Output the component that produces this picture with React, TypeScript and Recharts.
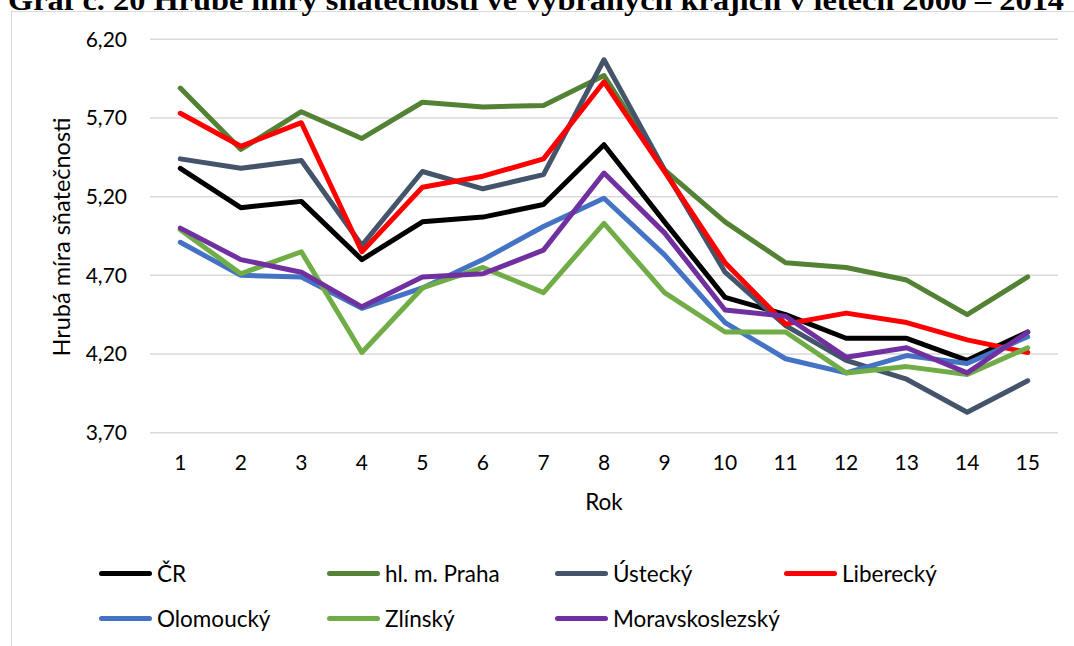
import { CartesianGrid, Legend, Line, LineChart, XAxis, YAxis } from "recharts";

const years = ["1", "2", "3", "4", "5", "6", "7", "8", "9", "10", "11", "12", "13", "14", "15"];

const cr = [5.38, 5.13, 5.17, 4.8, 5.04, 5.07, 5.15, 5.53, 5.04, 4.56, 4.45, 4.3, 4.3, 4.16, 4.34];
const praha = [5.89, 5.5, 5.74, 5.57, 5.8, 5.77, 5.78, 5.97, 5.37, 5.04, 4.78, 4.75, 4.67, 4.45, 4.69];
const ustecky = [5.44, 5.38, 5.43, 4.89, 5.36, 5.25, 5.34, 6.07, 5.37, 4.72, 4.38, 4.16, 4.04, 3.83, 4.03];
const liberecky = [5.73, 5.52, 5.67, 4.85, 5.26, 5.33, 5.44, 5.93, 5.36, 4.78, 4.39, 4.46, 4.4, 4.29, 4.21];
const olomoucky = [4.91, 4.7, 4.69, 4.49, 4.62, 4.8, 5.01, 5.19, 4.83, 4.4, 4.17, 4.08, 4.19, 4.14, 4.31];
const zlinsky = [4.99, 4.71, 4.85, 4.21, 4.62, 4.75, 4.59, 5.03, 4.59, 4.34, 4.34, 4.08, 4.12, 4.07, 4.24];
const moravskoslezsky = [5.0, 4.8, 4.72, 4.5, 4.69, 4.71, 4.86, 5.35, 4.97, 4.48, 4.44, 4.18, 4.24, 4.08, 4.34];

const yTicks = [3.7, 4.2, 4.7, 5.2, 5.7, 6.2];

const series = [
  { key: "cr", name: "ČR", color: "#000000", values: cr },
  { key: "praha", name: "hl. m. Praha", color: "#548235", values: praha },
  { key: "ustecky", name: "Ústecký", color: "#44546A", values: ustecky },
  { key: "liberecky", name: "Liberecký", color: "#FF0000", values: liberecky },
  { key: "olomoucky", name: "Olomoucký", color: "#4472C4", values: olomoucky },
  { key: "zlinsky", name: "Zlínský", color: "#70AD47", values: zlinsky },
  { key: "moravskoslezsky", name: "Moravskoslezský", color: "#7030A0", values: moravskoslezsky },
];

const data = years.map((year, i) => {
  const row: Record<string, string | number> = { year };
  series.forEach((s) => {
    row[s.key] = s.values[i];
  });
  return row;
});

const font = "Lato, 'Open Sans', sans-serif";

// legend grid: 4 columns, 2 rows
const legendCols = [99, 327, 555, 784];
const legendRows = [37, 82];

function LegendContent() {
  return (
    <div style={{ position: "relative", width: 1074, height: 110 }}>
      {series.map((s, i) => {
        const left = legendCols[i % 4];
        const top = legendRows[Math.floor(i / 4)];
        return (
          <div
            key={s.key}
            style={{
              position: "absolute",
              left,
              top: top - 13,
              height: 26,
              display: "flex",
              alignItems: "center",
              fontFamily: font,
              fontSize: 22.5,
              color: "#000",
              whiteSpace: "nowrap",
            }}
          >
            <span
              style={{
                display: "inline-block",
                width: 53,
                height: 5,
                borderRadius: 3,
                background: s.color,
                marginRight: 5,
              }}
            />
            {s.name}
          </div>
        );
      })}
    </div>
  );
}

export default function App() {
  return (
    <div
      style={{
        position: "fixed",
        left: 0,
        top: 0,
        width: 1074,
        height: 646,
        overflow: "hidden",
        background: "#fff",
      }}
    >
      <div
        style={{
          position: "absolute",
          left: 11,
          top: 11,
          width: 1100,
          height: 700,
          border: "1.5px solid #d9d9d9",
        }}
      />
      <svg
        width={1074}
        height={40}
        style={{ position: "absolute", left: 0, top: 0 }}
      >
        <text
          x={8}
          y={10}
          fontFamily="'Liberation Serif', 'Times New Roman', serif"
          fontWeight="bold"
          fontSize={30}
          textLength={1056}
          lengthAdjust="spacingAndGlyphs"
          fill="#000"
        >
          Graf č. 20 Hrubé míry sňatečnosti ve vybraných krajích v letech 2000 – 2014
        </text>
      </svg>
      <div style={{ position: "absolute", left: 0, top: 0 }}>
        <LineChart
          width={1074}
          height={646}
          data={data}
          margin={{ top: 39.3, right: 16, left: 0, bottom: 0 }}
        >
          <CartesianGrid vertical={false} stroke="#d9d9d9" strokeWidth={1.5} />
          <XAxis
            dataKey="year"
            axisLine={false}
            tickLine={false}
            height={103.3}
            padding={{ left: 30.3, right: 30.3 }}
            tickMargin={16}
            tick={{ fill: "#000", fontSize: 21, fontFamily: font }}
            label={{
              value: "Rok",
              position: "insideBottom",
              offset: 26,
              fill: "#000",
              fontSize: 22.5,
              fontFamily: font,
            }}
          />
          <YAxis
            width={150}
            domain={[3.7, 6.2]}
            ticks={yTicks}
            axisLine={false}
            tickLine={false}
            tickMargin={17}
            tick={{ fill: "#000", fontSize: 21, fontFamily: font }}
            tickFormatter={(v) => Number(v).toFixed(2).replace(".", ",")}
            label={{
              content: () => (
                <text
                  x={61}
                  y={237}
                  transform="rotate(-90, 61, 237)"
                  textAnchor="middle"
                  dominantBaseline="central"
                  fontFamily={font}
                  fontSize={23.5}
                  fill="#000"
                >
                  Hrubá míra sňatečnosti
                </text>
              ),
            }}
          />
          <Legend
            verticalAlign="bottom"
            content={() => <LegendContent />}
            wrapperStyle={{ position: "absolute", left: 0, top: 536, width: 1074, height: 110 }}
          />
          {series.map((s) => (
            <Line
              key={s.key}
              type="linear"
              dataKey={s.key}
              name={s.name}
              stroke={s.color}
              strokeWidth={5}
              strokeLinejoin="round"
              strokeLinecap="round"
              dot={false}
              activeDot={false}
              isAnimationActive={false}
            />
          ))}
        </LineChart>
      </div>
    </div>
  );
}
